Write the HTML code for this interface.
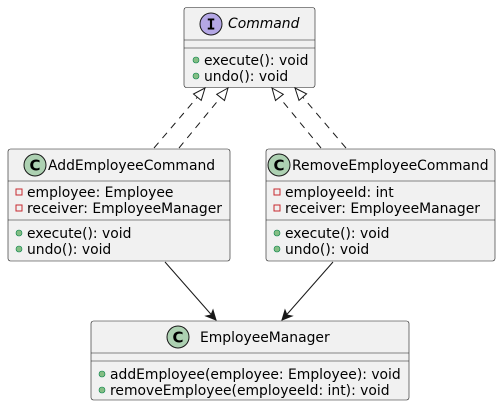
<!DOCTYPE html>
<html><head><meta charset="utf-8"><style>
html,body{margin:0;padding:0;background:#fff;}
svg{display:block;}
text{font-family:"DejaVu Sans","Liberation Sans",sans-serif;font-size:13.9px;fill:#000;}
</style></head><body>
<svg width="501" height="407" viewBox="0 0 501 407">
<g fill="#F1F1F1" stroke="#181818" stroke-width="0.6">
<rect x="184" y="7.5" width="131" height="80" rx="2.5"/>
<rect x="8" y="149" width="222" height="112" rx="2.5"/>
<rect x="266" y="149" width="229" height="112" rx="2.5"/>
<rect x="91" y="321" width="318" height="79" rx="2.5"/>
</g>
<g stroke="#181818" stroke-width="0.6">
<line x1="184" y1="40" x2="315" y2="40"/><line x1="184" y1="48" x2="315" y2="48"/>
<line x1="8" y1="181" x2="230" y2="181"/><line x1="8" y1="220" x2="230" y2="220"/>
<line x1="266" y1="181" x2="495" y2="181"/><line x1="266" y1="220" x2="495" y2="220"/>
<line x1="91" y1="353" x2="409" y2="353"/><line x1="91" y1="361" x2="409" y2="361"/>
</g>
<g stroke="#181818" stroke-width="1" fill="none" stroke-dasharray="7,6">
<line x1="154" y1="148" x2="197.3" y2="97.2"/>
<line x1="179" y1="148" x2="220.6" y2="97.4"/>
<line x1="321" y1="148" x2="279.4" y2="97.4"/>
<line x1="346" y1="148" x2="302.8" y2="97.1"/>
</g>
<g stroke="#181818" stroke-width="1" fill="#fff">
<polygon points="205,88 201.2,100.4 193.5,94"/>
<polygon points="228,88 224.5,100.5 216.7,94.3"/>
<polygon points="272,88 283.3,94.3 275.5,100.5"/>
<polygon points="295,88 306.6,93.9 299,100.4"/>
</g>
<g stroke="#181818" stroke-width="1" fill="none">
<line x1="165" y1="262" x2="216" y2="320"/>
<line x1="333" y1="262" x2="282" y2="320"/>
</g>
<g stroke="#181818" stroke-width="1" fill="#181818">
<polygon points="206,316 216,320 213,310 211,315"/>
<polygon points="292,316 282,320 285,310 287,315"/>
</g>
<g stroke="#181818" stroke-width="1">
<circle cx="211" cy="24" r="11" fill="#B4A7E5"/>
<circle cx="35" cy="165" r="11" fill="#ADD1B2"/>
<circle cx="279" cy="165" r="11" fill="#ADD1B2"/>
<circle cx="178" cy="337" r="11" fill="#ADD1B2"/>
</g>
<g text-anchor="middle">
<text x="211" y="29.5" style="font-family:'DejaVu Sans Mono',monospace;font-weight:bold;font-size:15px">I</text>
<text x="35" y="170.5" style="font-weight:bold;font-size:15px">C</text>
<text x="279" y="170.5" style="font-weight:bold;font-size:15px">C</text>
<text x="178" y="342.5" style="font-weight:bold;font-size:15px">C</text>
</g>
<text x="228" y="28" style="font-style:italic">Command</text>
<text x="48" y="170">AddEmployeeCommand</text>
<text x="292" y="170">RemoveEmployeeCommand</text>
<text x="200" y="342">EmployeeManager</text>
<g fill="#84BE84" stroke="#038048" stroke-width="0.6">
<circle cx="196" cy="60" r="3"/><circle cx="196" cy="76" r="3"/>
<circle cx="19" cy="233" r="3"/><circle cx="19" cy="249" r="3"/>
<circle cx="277" cy="233" r="3"/><circle cx="277" cy="249" r="3"/>
<circle cx="102" cy="374" r="3"/><circle cx="102" cy="390" r="3"/>
</g>
<g fill="none" stroke="#C82930" stroke-width="1">
<rect x="16" y="189" width="6" height="6"/><rect x="16" y="205" width="6" height="6"/>
<rect x="274" y="189" width="6" height="6"/><rect x="274" y="205" width="6" height="6"/>
</g>
<text x="204" y="65">execute(): void</text>
<text x="204" y="81">undo(): void</text>
<text x="27" y="197">employee: Employee</text>
<text x="27" y="213">receiver: EmployeeManager</text>
<text x="27" y="238">execute(): void</text>
<text x="27" y="254">undo(): void</text>
<text x="285" y="197">employeeId: int</text>
<text x="285" y="213">receiver: EmployeeManager</text>
<text x="285" y="238">execute(): void</text>
<text x="285" y="254">undo(): void</text>
<text x="110" y="379">addEmployee(employee: Employee): void</text>
<text x="110" y="395">removeEmployee(employeeId: int): void</text>
</svg>
</body></html>
